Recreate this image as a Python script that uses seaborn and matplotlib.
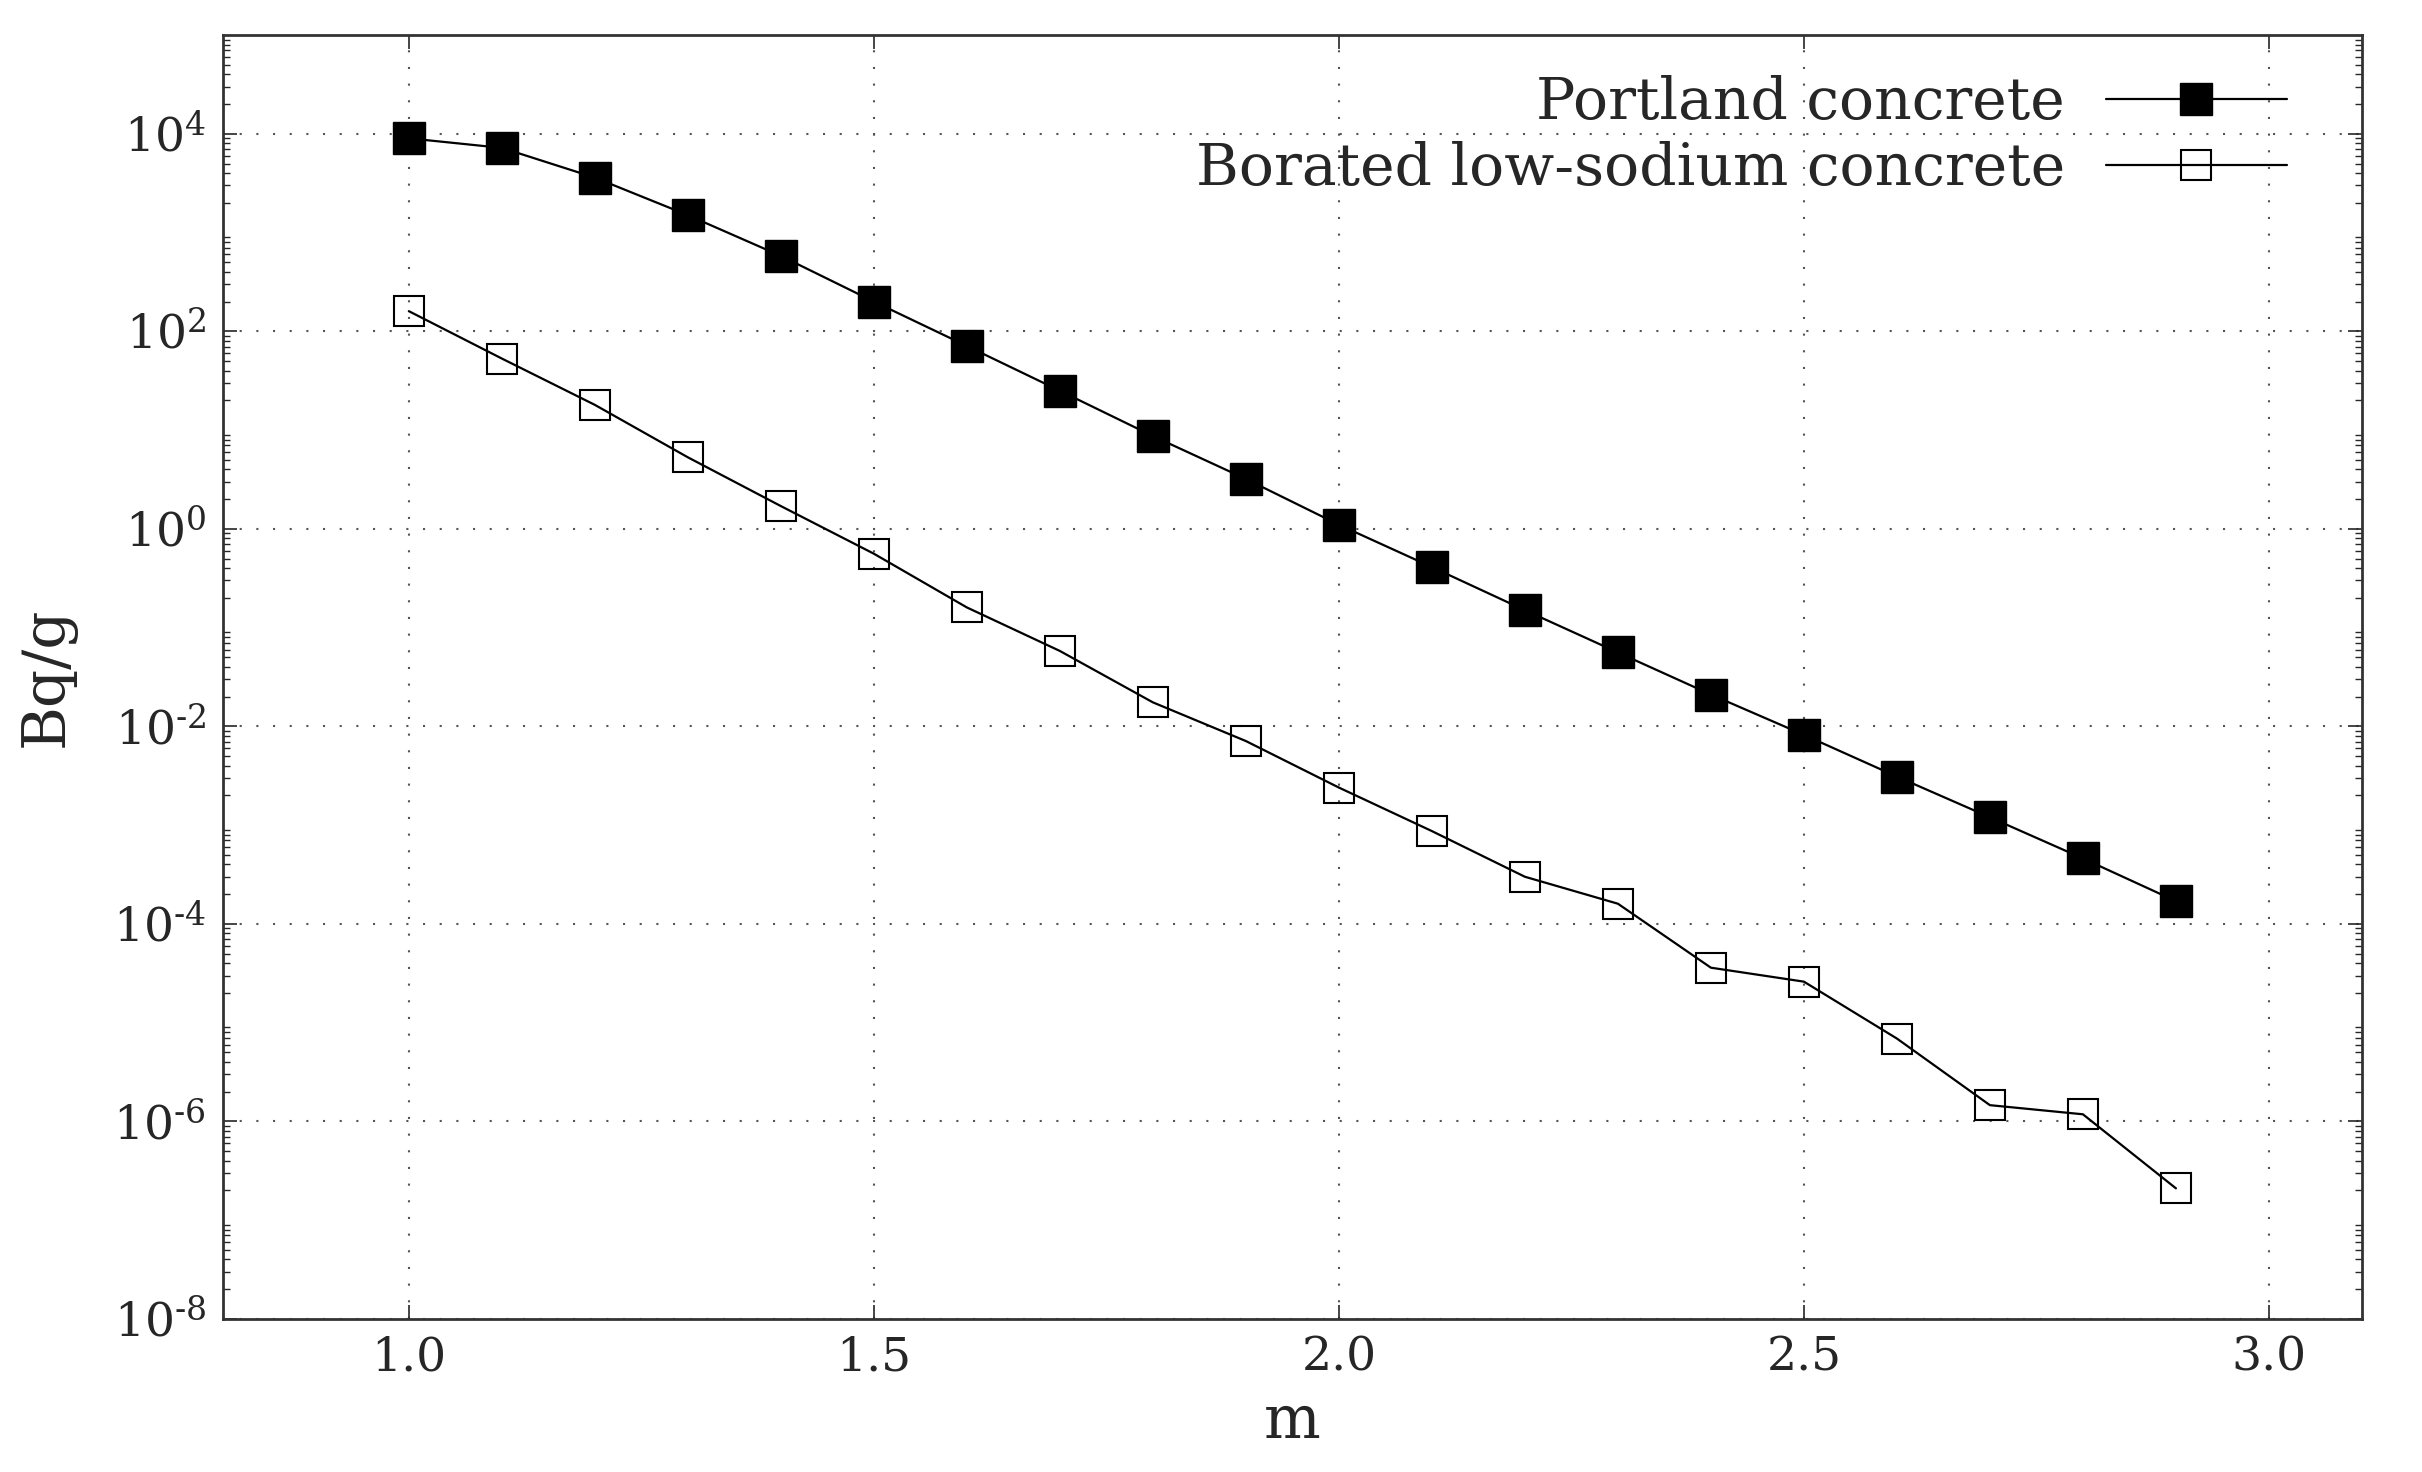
import numpy as np
import pandas as pd
import seaborn as sns
from matplotlib import pyplot as plt
from matplotlib import ticker

thickness = [1.0, 1.1, 1.2, 1.3, 1.4, 1.5, 1.6, 1.7, 1.8, 1.9,
             2.0, 2.1, 2.2, 2.3, 2.4, 2.5, 2.6, 2.7, 2.8, 2.9]
portland = [9.0e3, 7.2e3, 3.6e3, 1.5e3, 5.8e2, 2.0e2, 7.1e1, 2.5e1, 8.7, 3.2,
            1.1, 4.1e-1, 1.5e-1, 5.6e-2, 2.1e-2, 8.2e-3, 3.1e-3, 1.2e-3, 4.6e-4, 1.7e-4]
borated = [1.6e2, 5.3e1, 1.8e1, 5.3, 1.7, 5.6e-1, 1.6e-1, 5.8e-2, 1.75e-2, 7.1e-3,
           2.4e-3, 8.7e-4, 3.0e-4, 1.6e-4, 3.6e-5, 2.6e-5, 6.9e-6, 1.46e-6, 1.18e-6, 2.1e-7]

sns.set_style('ticks')
plt.rcParams['font.family'] = ['DejaVu Serif']
plt.rcParams['mathtext.fontset'] = 'dejavuserif'

df = pd.DataFrame({'m': thickness, 'Portland concrete': portland,
                   'Borated low-sodium concrete': borated})

fig, ax = plt.subplots(figsize=(24.22, 14.72), dpi=100)
fig.subplots_adjust(left=0.092, right=0.9752, top=0.9762, bottom=0.104)

sns.lineplot(data=df, x='m', y='Portland concrete', ax=ax, color='black', lw=1.6,
             marker='s', markersize=22.5, markerfacecolor='black', markeredgecolor='black',
             markeredgewidth=1.0, label='Portland concrete')
sns.lineplot(data=df, x='m', y='Borated low-sodium concrete', ax=ax, color='black', lw=1.6,
             marker='s', markersize=22, markerfacecolor='none', markeredgecolor='black',
             markeredgewidth=1.5, label='Borated low-sodium concrete')

ax.set_yscale('log')
ax.set_xlim(0.8, 3.1)
ax.set_ylim(1e-8, 1e5)
ax.xaxis.set_major_locator(ticker.MultipleLocator(0.5))
ax.xaxis.set_major_formatter(ticker.FormatStrFormatter('%.1f'))
ax.yaxis.set_major_locator(ticker.FixedLocator([10.0 ** k for k in range(-8, 5, 2)]))
ax.yaxis.set_minor_locator(ticker.LogLocator(base=10, subs=np.arange(2, 10), numticks=40))
ax.yaxis.set_minor_formatter(ticker.NullFormatter())


def sci_label(v, pos):
    k = int(round(np.log10(v)))
    if k < 0:
        return '10$^{\\text{-}%d}$' % (-k)
    return '10$^{%d}$' % k


ax.yaxis.set_major_formatter(ticker.FuncFormatter(sci_label))

ax.grid(True, which='major', linestyle=(0, (1, 7)), color='#555555', lw=1.5)
ax.tick_params(which='both', direction='in', top=True, right=True, labelsize=34, pad=12)
ax.tick_params(which='major', length=10, width=1.2)
ax.tick_params(which='minor', length=5, width=1.0)
for s in ax.spines.values():
    s.set_linewidth(2)
    s.set_color('#333333')

ax.set_xlabel('m', fontsize=43, labelpad=8)
ax.set_ylabel('Bq/g', fontsize=43)
ax.yaxis.set_label_coords(-0.0687, 0.5)

ax.legend(loc='upper right', frameon=False, markerfirst=False, fontsize=42,
          handlelength=3.1, handletextpad=0.7, labelspacing=0.17,
          borderaxespad=0.0, bbox_to_anchor=(0.9757, 0.9867))

fig.savefig('out.png', dpi=100)
